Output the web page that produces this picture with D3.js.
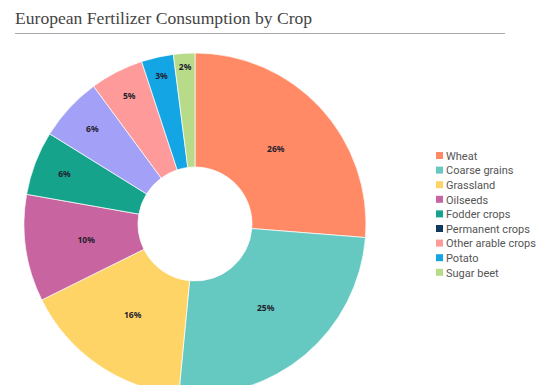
<!DOCTYPE html>
<html>
<head>
<meta charset="utf-8">
<script src="https://cdn.jsdelivr.net/npm/d3@7"></script>
<style>
  body { margin:0; background:#fff; }
  #plot { width:556px; height:385px; overflow:hidden; }
</style>
</head>
<body>
<div id="plot" class="canvas"></div>
<script>
// data
var crops = ['Wheat','Coarse grains','Grassland','Oilseeds','Fodder crops','Permanent crops','Other arable crops','Potato','Sugar beet'];
var shares = [26, 25, 16, 10, 6, 6, 5, 3, 2];
var sliceColors = ['#ff8a65','#66c9c1','#ffd466','#c8649f','#15a38c','#a3a0f7','#ff9a9a','#14a5e4','#b8db8a'];
var legendColors = ['#ff8a65','#66c9c1','#ffd466','#c8649f','#15a38c','#0d3a5e','#ff9a9a','#14a5e4','#b8db8a'];

var width = 556, height = 385;

var svg = d3.select('#plot')
    .append('svg')
    .attr('width', width)
    .attr('height', height);

// title + rule
svg.append('text')
    .attr('x', 15)
    .attr('y', 24)
    .attr('font-family', 'Liberation Serif, serif')
    .attr('font-size', 17.6)
    .attr('fill', '#444')
    .text('European Fertilizer Consumption by Crop');

svg.append('line')
    .attr('x1', 15).attr('x2', 505)
    .attr('y1', 33.5).attr('y2', 33.5)
    .attr('stroke', '#aaa')
    .attr('stroke-width', 1);

// donut
var cx = 195, cy = 224, rOut = 171, rIn = 57;

var pie = d3.pie().sort(null).value(function(d){ return d; });
var arc = d3.arc().innerRadius(rIn).outerRadius(rOut);

var g = svg.append('g').attr('transform', 'translate(' + cx + ',' + cy + ')');

var arcs = pie(shares);

g.selectAll('path')
    .data(arcs)
    .enter()
    .append('path')
    .attr('d', arc)
    .attr('fill', function(d, i){ return sliceColors[i]; })
    .attr('stroke', '#fff')
    .attr('stroke-width', 0.7);

// thin slices push their label outward, toward the widest part of the wedge
function labelPos(d) {
    var half = (d.endAngle - d.startAngle) / 2,
        mid = d.startAngle + half,
        s = Math.sin(half),
        r = s > 0.25 ? 110 : rOut / (1 + s) - 4;
    return [r * Math.sin(mid), -r * Math.cos(mid)];
}

g.selectAll('text.lbl')
    .data(arcs)
    .enter()
    .append('text')
    .attr('class', 'lbl')
    .attr('transform', function(d){ return 'translate(' + labelPos(d) + ')'; })
    .attr('text-anchor', 'middle')
    .attr('dy', '0.35em')
    .attr('font-family', 'Noto Sans, sans-serif')
    .attr('font-weight', 'bold')
    .attr('font-size', 8.5)
    .attr('fill', '#1e1e2e')
    .text(function(d){ return d.data + '%'; });

// legend
var legend = svg.append('g').attr('transform', 'translate(436,156)');

var items = legend.selectAll('g')
    .data(crops)
    .enter()
    .append('g')
    .attr('transform', function(d, i){ return 'translate(0,' + (i * 14.6) + ')'; });

items.append('rect')
    .attr('x', 0).attr('y', -4)
    .attr('width', 7).attr('height', 7)
    .attr('fill', function(d, i){ return legendColors[i]; });

items.append('text')
    .attr('x', 10)
    .attr('y', 0)
    .attr('dy', '0.35em')
    .attr('font-family', 'Roboto, sans-serif')
    .attr('font-size', 11)
    .attr('fill', '#555')
    .text(function(d){ return d; });
</script>
</body>
</html>
